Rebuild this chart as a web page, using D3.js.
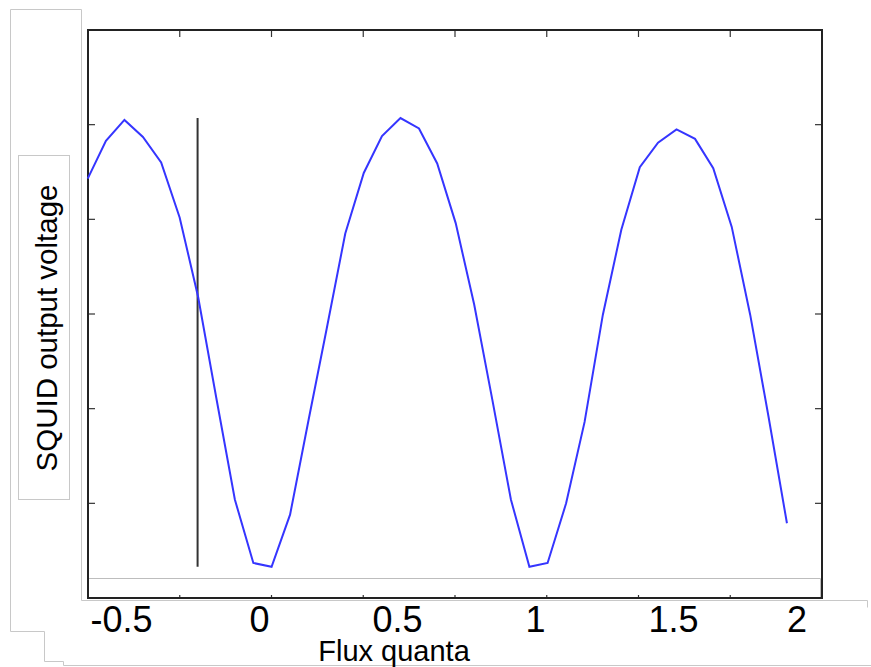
<!DOCTYPE html>
<html>
<head>
<meta charset="utf-8">
<script src="https://cdn.jsdelivr.net/npm/d3@7/dist/d3.min.js"></script>
<style>
  html, body { margin: 0; padding: 0; background: #fff; }
  svg { display: block; }
  text { font-family: "Liberation Sans", Arial, Helvetica, sans-serif; fill: #000; }
</style>
</head>
<body>
<svg id="chart" width="871" height="667"></svg>
<script>
// ---- data ----
const flux = [-0.633,-0.567,-0.5,-0.433,-0.367,-0.3,-0.233,-0.167,-0.1,-0.033,
  0.033,0.1,0.167,0.233,0.3,0.367,0.433,0.5,0.567,0.633,0.7,0.767,0.833,0.9,0.967,
  1.033,1.1,1.167,1.233,1.3,1.367,1.433,1.5,1.567,1.633,1.7,1.767,1.833,1.9];
const voltage = [4.43,4.83,5.05,4.87,4.60,4.02,3.18,2.11,1.04,0.37,
  0.33,0.88,1.88,2.85,3.85,4.49,4.88,5.07,4.96,4.59,3.96,3.10,2.09,1.04,0.33,
  0.37,1.00,1.86,2.99,3.89,4.55,4.81,4.95,4.85,4.54,3.92,2.99,1.92,0.79];
const xTickLabels = [-0.5, 0, 0.5, 1, 1.5, 2];
const yTicks = [1, 2, 3, 4, 5];
const markerFlux = -0.235;
const markerRange = [0.33, 5.07];
const xLabel = "Flux quanta";
const yLabel = "SQUID output voltage";

// ---- layout ----
const svg = d3.select("#chart");
const L = 88, R = 822, T = 30, B = 598;
const x = d3.scaleLinear().domain([-0.632, 2.027]).range([L, R]);
const y = d3.scaleLinear().domain([0, 6]).range([B, T]);
const gray = "#c8c8c8";

// background outline shapes
svg.append("path")
  .attr("d", `M10.5,631.5 L10.5,9.5 L81.5,9.5 L81.5,600.5 L867.5,600.5 L867.5,607.5`)
  .attr("fill", "none").attr("stroke", gray).attr("stroke-width", 1);
svg.append("path")
  .attr("d", `M10.5,631.5 L44.5,631.5 L44.5,661.5 L63.5,661.5 L63.5,665.5 L871,665.5`)
  .attr("fill", "none").attr("stroke", gray).attr("stroke-width", 1);
svg.append("rect")
  .attr("x", 18.5).attr("y", 155.5).attr("width", 51).attr("height", 344)
  .attr("fill", "none").attr("stroke", gray).attr("stroke-width", 1);

// ticks (8 equal divisions of the x axis)
const xTickPos = d3.range(1, 8).map(k => L + k * (R - L) / 8);
const tg = svg.append("g").attr("stroke", "#333").attr("stroke-width", 1.2);
xTickPos.forEach(px => {
  tg.append("line").attr("x1", px).attr("x2", px).attr("y1", T).attr("y2", T + 7);
  tg.append("line").attr("x1", px).attr("x2", px).attr("y1", B).attr("y2", B - 3);
});
yTicks.forEach(v => {
  tg.append("line").attr("x1", L).attr("x2", L + 7).attr("y1", y(v)).attr("y2", y(v));
  tg.append("line").attr("x1", R).attr("x2", R - 7).attr("y1", y(v)).attr("y2", y(v));
});

// inner light box near the bottom
svg.append("path")
  .attr("d", `M${L},578.5 L820.5,578.5 L820.5,${B}`)
  .attr("fill", "none").attr("stroke", "#bdbdbd").attr("stroke-width", 1);

// frame
svg.append("rect")
  .attr("x", L).attr("y", T).attr("width", R - L).attr("height", B - T)
  .attr("fill", "none").attr("stroke", "#222").attr("stroke-width", 2);

// marker line
svg.append("line")
  .attr("x1", x(markerFlux)).attr("x2", x(markerFlux))
  .attr("y1", y(markerRange[1])).attr("y2", y(markerRange[0]))
  .attr("stroke", "#333").attr("stroke-width", 2);

// curve
const line = d3.line().x((d, i) => x(flux[i])).y(d => y(d));
svg.append("path")
  .datum(voltage)
  .attr("d", line)
  .attr("fill", "none").attr("stroke", "#3535ff").attr("stroke-width", 2)
  .attr("stroke-linejoin", "miter");

// x tick labels
const lbl = svg.append("g");
xTickLabels.forEach(v => {
  const t = lbl.append("text")
    .attr("y", 632).attr("font-size", 36).attr("text-anchor", "middle")
    .text(v);
  const w = t.node().getComputedTextLength();
  let cx = x(v) - 3;
  cx = Math.min(cx + w / 2, R - 15) - w / 2;
  t.attr("x", cx);
});

// axis labels
svg.append("text")
  .attr("x", 394).attr("y", 661).attr("font-size", 29).attr("text-anchor", "middle")
  .text(xLabel);
svg.append("text")
  .attr("transform", "translate(57,328) rotate(-90)")
  .attr("font-size", 29.5).attr("text-anchor", "middle")
  .text(yLabel);
</script>
</body>
</html>
